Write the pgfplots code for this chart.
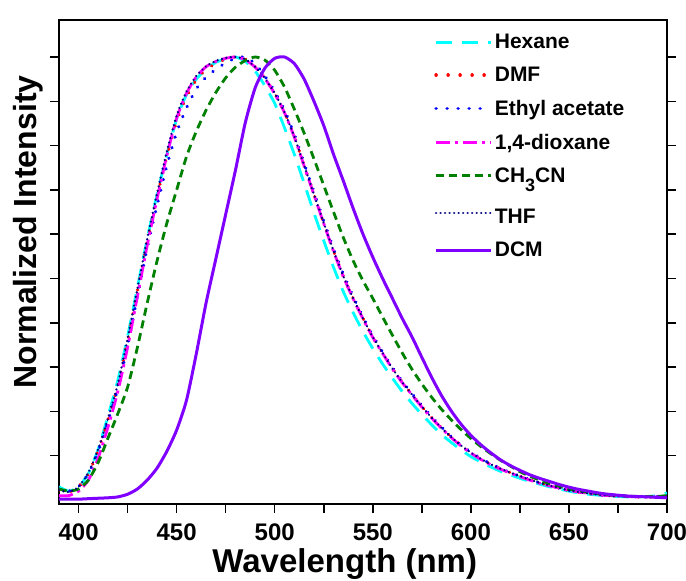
\documentclass[border=0pt]{standalone}
\usepackage{pgfplots}
\pgfplotsset{compat=1.18}
\usepackage{fontspec}
\setmainfont{Liberation Sans}
\definecolor{cHex}{RGB}{0,255,255}
\definecolor{cDMF}{RGB}{255,0,0}
\definecolor{cEA}{RGB}{0,0,255}
\definecolor{cDiox}{RGB}{255,0,255}
\definecolor{cACN}{RGB}{0,128,0}
\definecolor{cTHF}{RGB}{0,0,128}
\definecolor{cDCM}{RGB}{128,0,255}
\begin{document}
\begin{tikzpicture}
\begin{axis}[
 scale only axis, width=608pt, height=484pt,
 xmin=390, xmax=700, ymin=-0.009, ymax=1.0835,
 xtick={400,450,...,700}, minor xtick={425,475,...,675},
 ytick={0.1,0.2,...,1.0}, yticklabels={},
 xtick pos=left, ytick pos=both,
 tick align=outside,
 major tick length=9pt, minor tick length=9pt,
 every tick/.style={black, line width=1.5pt},
 axis line style={line width=2.5pt},
 /pgf/number format/assume math mode=true,
 ticklabel style={font=\fontsize{24}{24}\selectfont\bfseries},
 xticklabel style={yshift=-7pt},
 xlabel={Wavelength (nm)},
 ylabel={Normalized Intensity},
 xlabel style={font=\fontsize{33}{33}\selectfont\bfseries, at={(axis description cs:0.47,-0.124)}, anchor=center},
 ylabel style={font=\fontsize{32}{32}\selectfont\bfseries, at={(axis description cs:-0.051,0.562)}, anchor=center},
 legend style={draw=none, fill=none, at={(rel axis cs:0.617,0.975)}, anchor=north west,
   font=\fontsize{21}{21}\selectfont\bfseries, row sep=13pt, inner sep=0pt},
 legend cell align=left,
 legend image code/.code={\draw[#1] (0pt,0pt) -- (55pt,0pt);},
 every axis plot/.append style={smooth, tension=0.4},
]
% Hexane
\addplot[cHex, line width=2.8pt, dash pattern=on 16pt off 10pt] coordinates {
(390,0.030)(395,0.020)(400,0.030)(405,0.060)(410,0.115)(415,0.190)(420,0.270)(425,0.370)(430,0.480)(435,0.590)(440,0.690)(445,0.780)(450,0.860)(455,0.915)(460,0.950)(465,0.972)(470,0.988)(475,0.996)(480,1.000)(485,0.990)(490,0.968)(495,0.935)(500,0.895)(505,0.840)(510,0.780)(515,0.715)(520,0.648)(525,0.585)(530,0.525)(535,0.470)(540,0.423)(545,0.380)(550,0.342)(555,0.307)(560,0.275)(565,0.245)(570,0.218)(575,0.193)(580,0.170)(585,0.148)(590,0.130)(595,0.113)(600,0.098)(605,0.086)(610,0.075)(615,0.065)(620,0.057)(625,0.049)(630,0.042)(635,0.036)(640,0.030)(645,0.025)(650,0.020)(655,0.016)(660,0.013)(665,0.011)(670,0.009)(675,0.008)(680,0.007)(685,0.007)(690,0.008)(695,0.010)(700,0.016)};
\addlegendentry{Hexane}
% DMF
\addplot[cDMF, line width=3.5pt, line cap=round, dash pattern=on 0.01pt off 12pt] coordinates {
(390,0.022)(395,0.018)(400,0.030)(405,0.060)(410,0.112)(415,0.182)(420,0.258)(425,0.360)(430,0.472)(435,0.582)(440,0.685)(445,0.775)(450,0.855)(455,0.910)(460,0.948)(465,0.972)(470,0.985)(475,0.995)(480,1.000)(485,0.995)(490,0.978)(495,0.952)(500,0.918)(505,0.875)(510,0.820)(515,0.755)(520,0.690)(525,0.625)(530,0.562)(535,0.505)(540,0.455)(545,0.410)(550,0.368)(555,0.332)(560,0.297)(565,0.266)(570,0.238)(575,0.211)(580,0.186)(585,0.163)(590,0.142)(595,0.123)(600,0.107)(605,0.093)(610,0.081)(615,0.071)(620,0.062)(625,0.054)(630,0.046)(635,0.039)(640,0.033)(645,0.027)(650,0.022)(655,0.018)(660,0.015)(665,0.012)(670,0.010)(675,0.009)(680,0.008)(685,0.007)(690,0.007)(695,0.007)(700,0.008)};
\addlegendentry{DMF}
% Ethyl acetate
\addplot[cEA, line width=3.5pt, line cap=round, dash pattern=on 0.01pt off 11pt] coordinates {
(390,0.025)(395,0.020)(400,0.030)(405,0.060)(410,0.110)(415,0.178)(420,0.252)(425,0.350)(430,0.460)(435,0.570)(440,0.665)(445,0.755)(450,0.830)(455,0.885)(460,0.928)(465,0.955)(470,0.972)(475,0.987)(480,0.997)(485,1.000)(490,0.985)(495,0.957)(500,0.922)(505,0.880)(510,0.825)(515,0.760)(520,0.695)(525,0.630)(530,0.567)(535,0.510)(540,0.459)(545,0.413)(550,0.371)(555,0.334)(560,0.299)(565,0.268)(570,0.240)(575,0.213)(580,0.188)(585,0.165)(590,0.143)(595,0.124)(600,0.108)(605,0.094)(610,0.082)(615,0.072)(620,0.062)(625,0.054)(630,0.046)(635,0.039)(640,0.033)(645,0.027)(650,0.022)(655,0.018)(660,0.015)(665,0.012)(670,0.010)(675,0.009)(680,0.008)(685,0.007)(690,0.007)(695,0.008)(700,0.010)};
\addlegendentry{Ethyl acetate}
% 1,4-dioxane
\addplot[cDiox, line width=2.8pt, dash pattern=on 14pt off 5pt on 3pt off 5pt] coordinates {
(390,0.010)(395,0.010)(400,0.020)(405,0.045)(410,0.095)(415,0.165)(420,0.245)(425,0.345)(430,0.460)(435,0.575)(440,0.680)(445,0.778)(450,0.862)(455,0.918)(460,0.955)(465,0.978)(470,0.990)(475,0.997)(480,1.000)(485,0.994)(490,0.977)(495,0.951)(500,0.917)(505,0.874)(510,0.819)(515,0.754)(520,0.689)(525,0.624)(530,0.561)(535,0.504)(540,0.454)(545,0.409)(550,0.367)(555,0.331)(560,0.296)(565,0.265)(570,0.237)(575,0.210)(580,0.185)(585,0.162)(590,0.141)(595,0.122)(600,0.106)(605,0.092)(610,0.080)(615,0.070)(620,0.061)(625,0.053)(630,0.045)(635,0.038)(640,0.032)(645,0.027)(650,0.022)(655,0.018)(660,0.015)(665,0.012)(670,0.010)(675,0.009)(680,0.008)(685,0.007)(690,0.007)(695,0.007)(700,0.008)};
\addlegendentry{1,4-dioxane}
% CH3CN
\addplot[cACN, line width=2.8pt, dash pattern=on 8pt off 5pt] coordinates {
(390,0.025)(395,0.020)(400,0.025)(405,0.045)(410,0.085)(415,0.140)(420,0.195)(425,0.255)(430,0.345)(435,0.445)(440,0.540)(445,0.625)(450,0.700)(455,0.775)(460,0.832)(465,0.880)(470,0.920)(475,0.953)(480,0.977)(485,0.992)(490,1.000)(495,0.993)(500,0.970)(505,0.932)(510,0.882)(515,0.828)(520,0.770)(525,0.710)(530,0.650)(535,0.592)(540,0.540)(545,0.495)(550,0.455)(555,0.413)(560,0.372)(565,0.332)(570,0.295)(575,0.262)(580,0.232)(585,0.205)(590,0.181)(595,0.159)(600,0.139)(605,0.121)(610,0.105)(615,0.090)(620,0.077)(625,0.064)(630,0.054)(635,0.045)(640,0.037)(645,0.031)(650,0.025)(655,0.021)(660,0.017)(665,0.014)(670,0.012)(675,0.010)(680,0.009)(685,0.008)(690,0.008)(695,0.008)(700,0.010)};
\addlegendentry{CH\raisebox{-0.42em}{\fontsize{18}{18}\selectfont 3}CN}
% THF
\addplot[cTHF, line width=2.5pt, line cap=round, dash pattern=on 0.01pt off 4.5pt] coordinates {
(390,0.022)(395,0.018)(400,0.030)(405,0.062)(410,0.115)(415,0.185)(420,0.262)(425,0.365)(430,0.478)(435,0.590)(440,0.692)(445,0.787)(450,0.868)(455,0.922)(460,0.957)(465,0.979)(470,0.991)(475,0.998)(480,1.000)(485,0.995)(490,0.978)(495,0.952)(500,0.918)(505,0.875)(510,0.820)(515,0.755)(520,0.690)(525,0.625)(530,0.562)(535,0.505)(540,0.455)(545,0.410)(550,0.368)(555,0.332)(560,0.297)(565,0.266)(570,0.238)(575,0.211)(580,0.186)(585,0.163)(590,0.142)(595,0.123)(600,0.107)(605,0.093)(610,0.081)(615,0.071)(620,0.062)(625,0.054)(630,0.046)(635,0.039)(640,0.033)(645,0.027)(650,0.022)(655,0.018)(660,0.015)(665,0.012)(670,0.010)(675,0.009)(680,0.008)(685,0.007)(690,0.007)(695,0.007)(700,0.008)};
\addlegendentry{\rule{0pt}{23pt}THF}
% DCM
\addplot[cDCM, line width=3pt] coordinates {
(390,0.002)(400,0.002)(405,0.003)(410,0.004)(415,0.005)(420,0.007)(425,0.013)(430,0.025)(435,0.045)(440,0.072)(445,0.110)(450,0.158)(455,0.225)(460,0.330)(465,0.445)(470,0.545)(475,0.645)(480,0.745)(485,0.852)(490,0.930)(495,0.975)(500,0.997)(505,1.000)(510,0.985)(515,0.950)(520,0.900)(525,0.845)(530,0.780)(535,0.720)(540,0.658)(545,0.600)(550,0.548)(555,0.500)(560,0.455)(565,0.410)(570,0.368)(575,0.322)(580,0.277)(585,0.236)(590,0.201)(595,0.171)(600,0.146)(605,0.125)(610,0.107)(615,0.091)(620,0.078)(625,0.067)(630,0.057)(635,0.049)(640,0.042)(645,0.035)(650,0.029)(655,0.024)(660,0.020)(665,0.016)(670,0.013)(680,0.009)(690,0.007)(700,0.005)};
\addlegendentry{DCM}
\end{axis}
\pgfresetboundingbox
\path[use as bounding box] ([shift={(-59pt,-77pt)}]current axis.south west) rectangle ([shift={(19pt,20pt)}]current axis.north east);
\end{tikzpicture}
\end{document}
